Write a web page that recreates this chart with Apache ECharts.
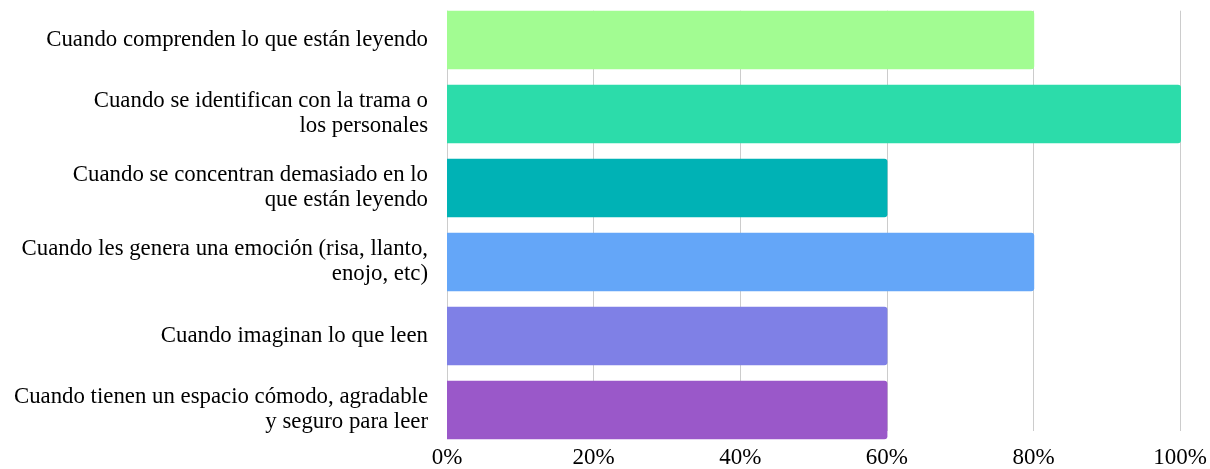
<!DOCTYPE html>
<html>
<head>
<meta charset="utf-8">
<script src="https://cdn.jsdelivr.net/npm/echarts@6/dist/echarts.min.js"></script>
<style>
html,body{margin:0;padding:0;background:#fff;}
#chart{width:1210px;height:469px;}
</style>
</head>
<body>
<div id="chart"></div>
<script>
const categories = [
  "Cuando comprenden lo que están leyendo",
  "Cuando se identifican con la trama o\nlos personales",
  "Cuando se concentran demasiado en lo\nque están leyendo",
  "Cuando les genera una emoción (risa, llanto,\nenojo, etc)",
  "Cuando imaginan lo que leen",
  "Cuando tienen un espacio cómodo, agradable\ny seguro para leer"
];
const values = [80, 100, 60, 80, 60, 60];
const barColors = ["#a2fc92", "#2cdcaa", "#00b2b5", "#64a6f8", "#7f80e6", "#9a58c9"];
const tickValues = [0, 20, 40, 60, 80, 100];

const FONT = "'Liberation Serif', 'Times New Roman', serif";
const chart = echarts.init(document.getElementById('chart'), null, {renderer: 'canvas'});
chart.setOption({
  animation: false,
  backgroundColor: '#ffffff',
  grid: [
    {left: 447, right: 29, top: 3, height: 444, containLabel: false},
    {left: 447, right: 29, top: 10.7, height: 428.6, containLabel: false}
  ],
  xAxis: [
    {gridIndex: 0, type: 'value', min: 0, max: 100, interval: 20, show: false},
    {
      gridIndex: 1, type: 'value', min: 0, max: 100, interval: 20,
      axisLine: {show: false}, axisTick: {show: false},
      splitLine: {show: true, lineStyle: {color: '#cccccc', width: 1}},
      axisLabel: {
        color: '#000', fontFamily: FONT, fontSize: 23, margin: 15,
        formatter: function (v) { return tickValues.indexOf(v) >= 0 ? v + '%' : ''; }
      }
    }
  ],
  yAxis: [
    {
      gridIndex: 0, type: 'category', data: categories, inverse: true,
      axisLine: {show: false}, axisTick: {show: false}, splitLine: {show: false},
      axisLabel: {color: '#000', fontFamily: FONT, fontSize: 22.8, lineHeight: 25, margin: 19, align: 'right'}
    },
    {gridIndex: 1, type: 'value', min: 0, max: 1, show: false}
  ],
  series: [{
    type: 'bar',
    xAxisIndex: 0, yAxisIndex: 0,
    barCategoryGap: '20.8%',
    data: values.map(function (v, i) {
      return {value: v, itemStyle: {color: barColors[i], borderRadius: [0, 3, 3, 0]}};
    })
  }]
});
</script>
</body>
</html>
